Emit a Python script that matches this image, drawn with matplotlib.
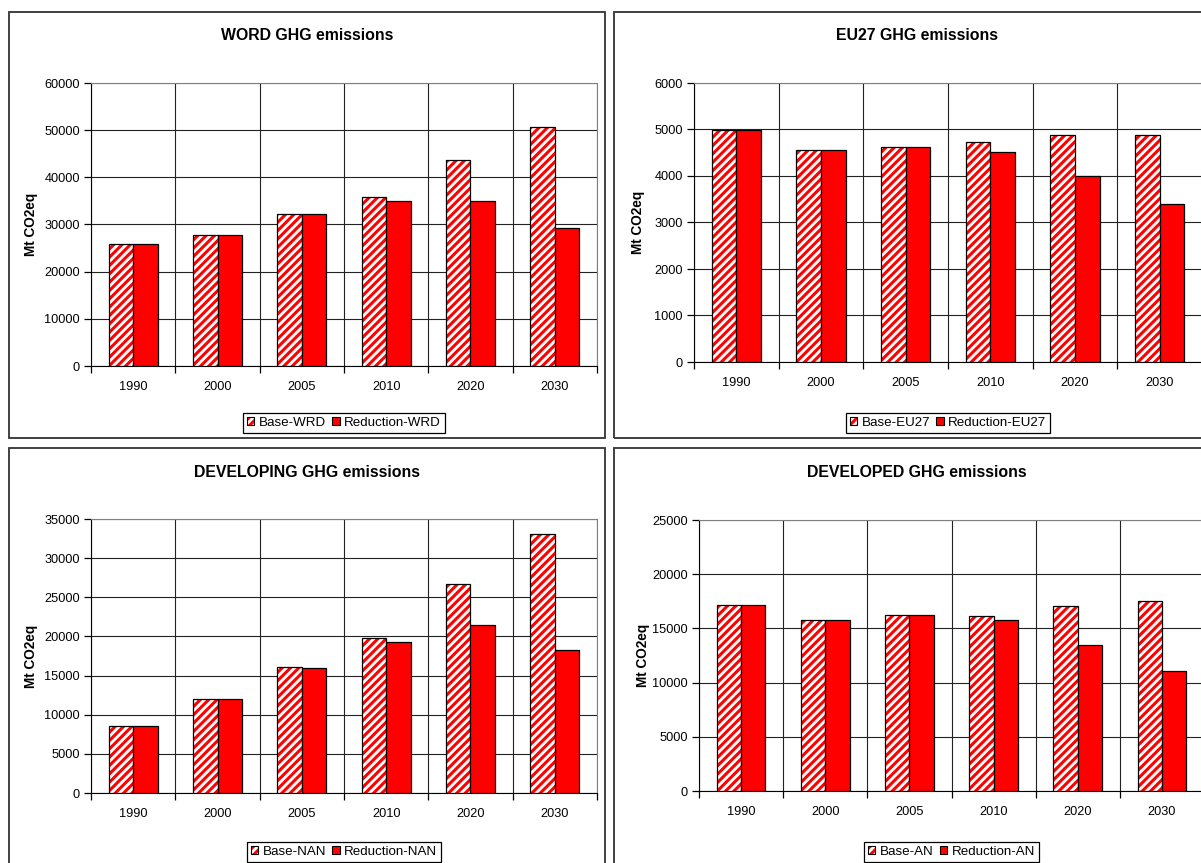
import matplotlib
matplotlib.use('Agg')
import matplotlib.pyplot as plt
from matplotlib.patches import Patch, Rectangle
from matplotlib.legend_handler import HandlerTuple
import numpy as np

plt.rcParams['font.family'] = ['Liberation Sans', 'DejaVu Sans']
plt.rcParams['hatch.linewidth'] = 2.2

years = ['1990', '2000', '2005', '2010', '2020', '2030']

wrd_base = [25900, 27800, 32200, 35900, 43600, 50600]
wrd_red = [25900, 27800, 32200, 34900, 34900, 29200]

eu_base = [4980, 4560, 4630, 4730, 4890, 4890]
eu_red = [4980, 4560, 4630, 4510, 3990, 3400]

nan_base = [8600, 12000, 16100, 19800, 26750, 33050]
nan_red = [8600, 12000, 16000, 19250, 21400, 18250]

an_base = [17200, 15800, 16250, 16100, 17100, 17500]
an_red = [17200, 15800, 16200, 15750, 13450, 11100]

W, H = 1201, 863
fig = plt.figure(figsize=(W / 100, H / 100), dpi=100)
fig.patch.set_facecolor('white')


def px_axes(l, r, t, b):
    return fig.add_axes([l / W, 1 - b / H, (r - l) / W, (b - t) / H])


panels = [
    # title, base, red, suffix, ymax, ystep, axes box, frame box, title pos, ylabel x, legend y
    ('WORD GHG emissions', wrd_base, wrd_red, 'WRD', 60000, 10000,
     (91, 597, 83, 366), (9, 605, 12, 438), (307, 36), 31, 423),
    ('EU27 GHG emissions', eu_base, eu_red, 'EU27', 6000, 1000,
     (694, 1202, 83, 362), (614, 1222, 12, 438), (917, 36), 638, 423),
    ('DEVELOPING GHG emissions', nan_base, nan_red, 'NAN', 35000, 5000,
     (91, 597, 519, 793), (9, 605, 448, 880), (307, 472), 31, 852),
    ('DEVELOPED GHG emissions', an_base, an_red, 'AN', 25000, 5000,
     (699, 1204, 520, 791), (614, 1222, 448, 880), (917, 472), 643, 852),
]

x = np.arange(len(years))
w = 0.29

for title, base, red, suf, ymax, ystep, box, frame, tpos, ylx, legy in panels:
    fl, fr, ft, fb = frame
    fig.patches.append(Rectangle((fl / W, 1 - fb / H), (fr - fl) / W, (fb - ft) / H,
                                 transform=fig.transFigure, fill=False,
                                 edgecolor='#333333', lw=1.3, zorder=0))
    l, r, t, b = box
    ax = px_axes(l, r, t, b)
    ax.set_xlim(-0.5, len(years) - 0.5)
    ax.set_ylim(0, ymax)

    # hatched base bars: hatch in red, then black outline on top
    ax.bar(x - w / 2, base, w, facecolor='white', edgecolor='#ff0000',
           hatch='////', linewidth=0, zorder=3)
    ax.bar(x - w / 2, base, w, fill=False, edgecolor='black', linewidth=0.9, zorder=4)
    ax.bar(x + w / 2, red, w, facecolor='#ff0000', edgecolor='black', linewidth=0.9, zorder=4)

    ax.set_yticks(np.arange(0, ymax + 1, ystep))
    ax.set_xticks(np.arange(-0.5, len(years), 1.0))
    ax.set_xticklabels([])
    ax.set_xticks(x, minor=True)
    ax.set_xticklabels(years, minor=True)
    ax.tick_params(axis='x', which='minor', length=0, pad=11, labelsize=9.2)
    ax.tick_params(axis='x', which='major', length=5, width=0.9, direction='out')
    ax.tick_params(axis='y', length=5, width=0.9, direction='out', pad=3, labelsize=9.2)
    ax.grid(True, which='major', color='#222222', linewidth=0.8)
    ax.set_axisbelow(True)
    ax.spines['left'].set_color('black')
    ax.spines['bottom'].set_color('black')
    ax.spines['top'].set_color('#808080')
    ax.spines['right'].set_color('#808080')

    fig.text(tpos[0] / W, 1 - tpos[1] / H, title, ha='center', va='center',
             fontsize=11.4, fontweight='bold')
    fig.text(ylx / W, 1 - ((t + b) / 2) / H, 'Mt CO2eq', rotation=90, ha='center',
             va='center', fontsize=9.8, fontweight='bold')

    h1 = Patch(facecolor='white', edgecolor='#ff0000', hatch='////', linewidth=0)
    h2 = Patch(fill=False, edgecolor='black', linewidth=0.8)
    h3 = Patch(facecolor='#ff0000', edgecolor='black', linewidth=0.8)
    leg = fig.legend([(h1, h2), h3], ['Base-' + suf, 'Reduction-' + suf],
                     handler_map={tuple: HandlerTuple(ndivide=1, pad=0)},
                     loc='center', bbox_to_anchor=((l + r) / 2 / W, 1 - legy / H),
                     ncol=2, fontsize=9.6, frameon=True, fancybox=False,
                     edgecolor='black', framealpha=1, handlelength=0.55,
                     handleheight=0.55, handletextpad=0.35, columnspacing=0.45,
                     borderpad=0.3, borderaxespad=0)
    leg.get_frame().set_linewidth(0.9)

fig.savefig('out.png', dpi=100)
